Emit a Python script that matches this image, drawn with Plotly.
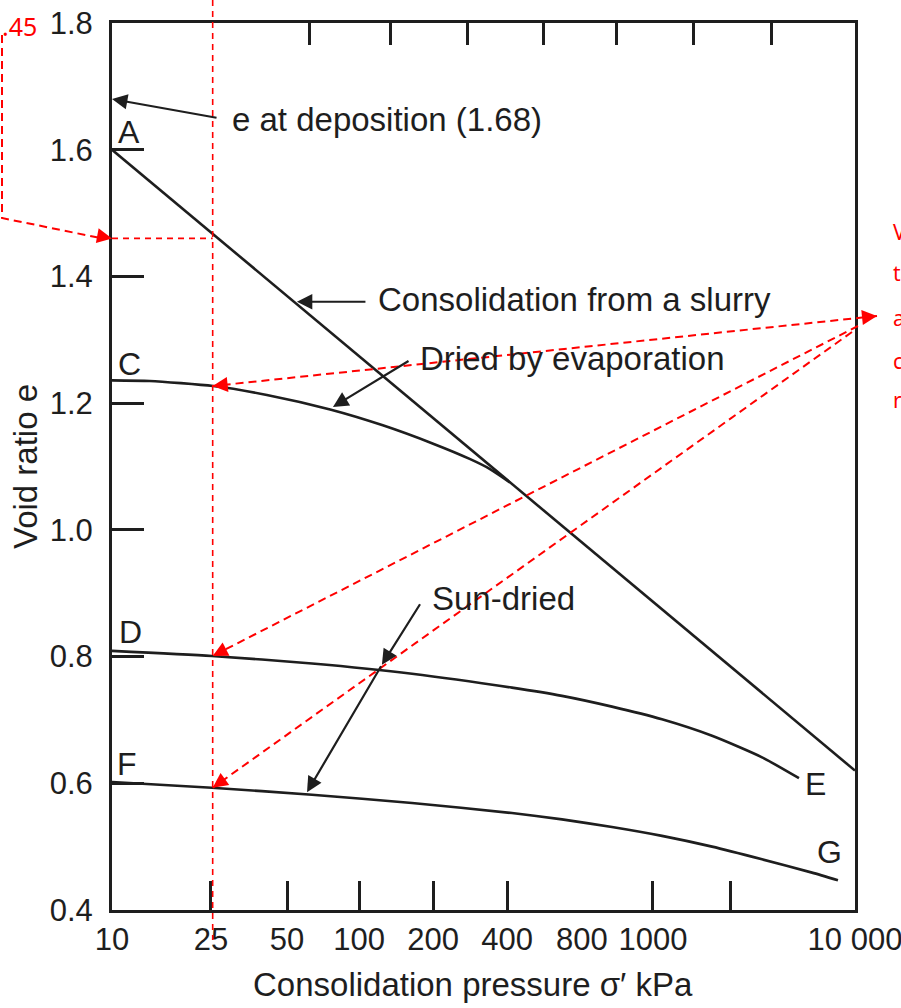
import math
import plotly.graph_objects as go

# ---------------- data ----------------
# Virgin consolidation line A-B (consolidation from a slurry)
p_AB = [10, 10000]
e_AB = [1.60, 0.62]

# C: dried by evaporation (merges with A-B)
p_C = [10, 14.2, 25.6, 42.2, 76, 124, 198, 278, 336, 404]
e_C = [1.236, 1.235, 1.227, 1.213, 1.190, 1.165, 1.136, 1.112, 1.096, 1.075]

# D-E: sun-dried
p_D = [10, 25.3, 64.2, 162.7, 412, 656, 1044, 1662, 2647, 4212, 5940]
e_D = [0.809, 0.801, 0.789, 0.773, 0.751, 0.738, 0.721, 0.701, 0.675, 0.641, 0.608]

# F-G: sun-dried
p_F = [10, 25.3, 64.2, 162.7, 412, 656, 1044, 1662, 2647, 4212, 6705, 8535]
e_F = [0.602, 0.593, 0.582, 0.569, 0.553, 0.543, 0.531, 0.517, 0.500, 0.480, 0.459, 0.447]

# axis ticks / labels
x_label_vals = [10, 25.1, 50.9, 99.4, 197.8, 393.6, 790, 1528, 10000]
x_label_text = ["10", "25", "50", "100", "200", "400", "800", "1000", "10 000"]
x_bottom_ticks = [25.1, 50.9, 99.4, 197.8, 393.6, 1528, 3131]
x_top_ticks = [63.0, 132.6, 271.3, 550, 1084, 2218, 4580]
y_tick_vals = [0.4, 0.6, 0.8, 1.0, 1.2, 1.4, 1.6, 1.8]
y_tick_text = ["0.4", "0.6", "0.8", "1.0", "1.2", "1.4", "1.6", "1.8"]
x_title = "Consolidation pressure σ′ kPa"
y_title = "Void ratio e"

# point labels (letter, pressure, void ratio)
point_labels = ["A", "C", "D", "F", "E", "B", "G"]
point_p = [11.7, 11.8, 11.9, 11.5, 6895, 11820, 7925]
point_e = [1.628, 1.262, 0.839, 0.630, 0.599, 0.626, 0.492]

# black callouts: text anchor (p, e), arrow tails (p, e), arrow tips (p, e)
callout_text = ["e at deposition (1.68)", "Consolidation from a slurry",
                "Dried by evaporation", "Sun-dried"]
callout_text_p = [30.0, 116.4, 172, 192]
callout_text_e = [1.647, 1.363, 1.271, 0.892]
arrow_tail_p = [26.8, 107, 159.7, 176.8, 123]
arrow_tail_e = [1.650, 1.360, 1.268, 0.885, 0.787]
arrow_tip_p = [10, 55.8, 78, 123, 61.3]
arrow_tip_e = [1.68, 1.360, 1.194, 0.787, 0.586]

# red overlay: readings at sigma' = 25 kPa
red_p = 25.5
red_e_A = 1.46
red_e_C = 1.227
red_e_D = 0.801
red_e_F = 0.593
red_value_text = ".45"
red_side_lines = ["Void ratios", "taken from", "all three", "curves", "read at 25 kPa"]

# ---------------- figure ----------------
INK = "#1e1e1e"
RED = "#ff0000"
FONT = "Liberation Sans, Arial, sans-serif"
RFONT = "Noto Sans, sans-serif"
W, H = 901, 1008
ML, MR, MT, MB = 112, 46, 23, 98
PW, PH = W - ML - MR, H - MT - MB
XMIN, XMAX = 1.0, 4.0
YMIN, YMAX = 0.4, 1.8


def xpap(p):
    return (math.log10(p) - XMIN) / (XMAX - XMIN)


def ypap(e):
    return (e - YMIN) / (YMAX - YMIN)


def xpix(p):
    return ML + PW * xpap(p)


def ypix(e):
    return MT + PH * (1 - ypap(e))


def px2paper(x):
    return (x - ML) / PW


def py2paper(y):
    return (H - MB - y) / PH


fig = go.Figure()
line_style = dict(color=INK, width=2.6)
fig.add_trace(go.Scatter(x=p_AB, y=e_AB, mode="lines", line=line_style, hoverinfo="skip"))
for px_, ey_ in ((p_C, e_C), (p_D, e_D), (p_F, e_F)):
    fig.add_trace(go.Scatter(x=px_, y=ey_, mode="lines",
                             line=dict(line_style, shape="spline", smoothing=0.6),
                             hoverinfo="skip"))
# carrier traces for the tick-only overlay axes
fig.add_trace(go.Scatter(x=[10, 10000], y=[1, 1], xaxis="x2", mode="lines", opacity=0, hoverinfo="skip"))
fig.add_trace(go.Scatter(x=[10, 10000], y=[1, 1], xaxis="x3", mode="lines", opacity=0, hoverinfo="skip"))

ann = []
for t, p, e in zip(point_labels, point_p, point_e):
    ann.append(dict(x=math.log10(p), y=e, xref="x", yref="y", text=t, showarrow=False,
                    xanchor="center", yanchor="middle",
                    font=dict(family=FONT, size=32, color=INK)))
for t, p, e in zip(callout_text, callout_text_p, callout_text_e):
    ann.append(dict(x=math.log10(p), y=e, xref="x", yref="y", text=t, showarrow=False,
                    xanchor="left", yanchor="middle",
                    font=dict(family=FONT, size=33, color=INK)))
for tp, te, hp, he in zip(arrow_tail_p, arrow_tail_e, arrow_tip_p, arrow_tip_e):
    ann.append(dict(x=math.log10(hp), y=he, xref="x", yref="y",
                    ax=math.log10(tp), ay=te, axref="x", ayref="y",
                    text="", showarrow=True, arrowhead=2, arrowsize=1.4,
                    arrowwidth=2.2, arrowcolor=INK, standoff=0))

# axis title (x) placed as text so it can sit slightly left of centre, as in the source
ann.append(dict(x=px2paper(473), y=py2paper(985), xref="paper", yref="paper",
                text=x_title, showarrow=False, xanchor="center", yanchor="middle",
                font=dict(family=FONT, size=33, color=INK)))

shapes = []
dash = "8px,5px"
shapes.append(dict(type="line", xref="paper", yref="paper",
                   x0=xpap(red_p), x1=xpap(red_p), y0=py2paper(0), y1=py2paper(940),
                   line=dict(color=RED, width=1.6, dash="6px,5px")))
shapes.append(dict(type="line", xref="paper", yref="paper",
                   x0=0, x1=xpap(red_p), y0=ypap(red_e_A), y1=ypap(red_e_A),
                   line=dict(color=RED, width=1.6, dash="6px,5px")))
lx = px2paper(2)
shapes.append(dict(type="path", xref="paper", yref="paper",
                   path=f"M {lx},{py2paper(35)} L {lx},{py2paper(218)} L {px2paper(100)},{ypap(red_e_A) + 0.0005}",
                   line=dict(color=RED, width=2, dash=dash)))

red_tail_px = [(877, 316), (858, 326), (852, 332)]
red_targets = [red_e_C, red_e_D, red_e_F]


def red_head(tip_x, tip_y, from_x, from_y, L=14):
    dx, dy = from_x - tip_x, from_y - tip_y
    n = math.hypot(dx, dy)
    return dict(x=px2paper(tip_x), y=py2paper(tip_y), xref="paper", yref="paper",
                ax=dx * L / n, ay=dy * L / n, axref="pixel", ayref="pixel",
                text="", showarrow=True, arrowhead=2, arrowsize=1.5, arrowwidth=2,
                arrowcolor=RED, standoff=0)


ann.append(red_head(ML, ypix(red_e_A), 2, 218))
for (tx, ty), e in zip(red_tail_px, red_targets):
    hx, hy = xpix(red_p), ypix(e)
    shapes.append(dict(type="line", xref="paper", yref="paper",
                       x0=px2paper(tx), y0=py2paper(ty),
                       x1=px2paper(hx), y1=py2paper(hy),
                       line=dict(color=RED, width=2, dash=dash)))
    ann.append(red_head(hx, hy, tx, ty))
ann.append(red_head(red_tail_px[0][0], red_tail_px[0][1], xpix(red_p), ypix(red_e_C)))

ann.append(dict(x=px2paper(0), y=py2paper(26), xref="paper", yref="paper",
                text=red_value_text, showarrow=False, xanchor="left", yanchor="middle",
                font=dict(family=RFONT, size=25, color=RED)))
side_y = [232, 273, 318, 361, 400]
for t, yy in zip(red_side_lines, side_y):
    ann.append(dict(x=px2paper(891), y=py2paper(yy), xref="paper", yref="paper",
                    text=t, showarrow=False, xanchor="left", yanchor="middle",
                    font=dict(family=RFONT, size=21, color=RED)))

fig.update_layout(
    width=W, height=H,
    margin=dict(l=ML, r=MR, t=MT, b=MB, autoexpand=False),
    paper_bgcolor="white", plot_bgcolor="white",
    showlegend=False,
    font=dict(family=FONT, color=INK, size=31),
    xaxis=dict(type="log", range=[XMIN, XMAX], tickvals=x_label_vals, ticktext=x_label_text,
               ticks="", showline=True, mirror=True, linewidth=3, linecolor=INK,
               showgrid=False, zeroline=False, tickfont=dict(size=31, color=INK),
               ticklabelstandoff=0, ticklabeloverflow="allow"),
    xaxis2=dict(type="log", range=[XMIN, XMAX], overlaying="x", side="top", tickvals=x_top_ticks,
                ticks="inside", ticklen=22, tickwidth=3, tickcolor=INK, showticklabels=False,
                showgrid=False, showline=False, zeroline=False),
    xaxis3=dict(type="log", range=[XMIN, XMAX], overlaying="x", side="bottom", tickvals=x_bottom_ticks,
                ticks="inside", ticklen=29, tickwidth=3, tickcolor=INK, showticklabels=False,
                showgrid=False, showline=False, zeroline=False),
    yaxis=dict(range=[YMIN, YMAX], tickvals=y_tick_vals, ticktext=y_tick_text,
               ticks="inside", ticklen=32, tickwidth=3, tickcolor=INK,
               showline=True, mirror=True, linewidth=3, linecolor=INK,
               showgrid=False, zeroline=False, tickfont=dict(size=31, color=INK),
               ticklabelstandoff=10, ticklabeloverflow="allow",
               title=dict(text=y_title, font=dict(size=33, color=INK), standoff=3)),
    annotations=ann,
    shapes=shapes,
)

fig.write_html("out.html", config={"displayModeBar": False},
               post_script="document.body.style.margin='0px';document.body.style.padding='0px';"
                           "document.documentElement.style.overflow='hidden';")
